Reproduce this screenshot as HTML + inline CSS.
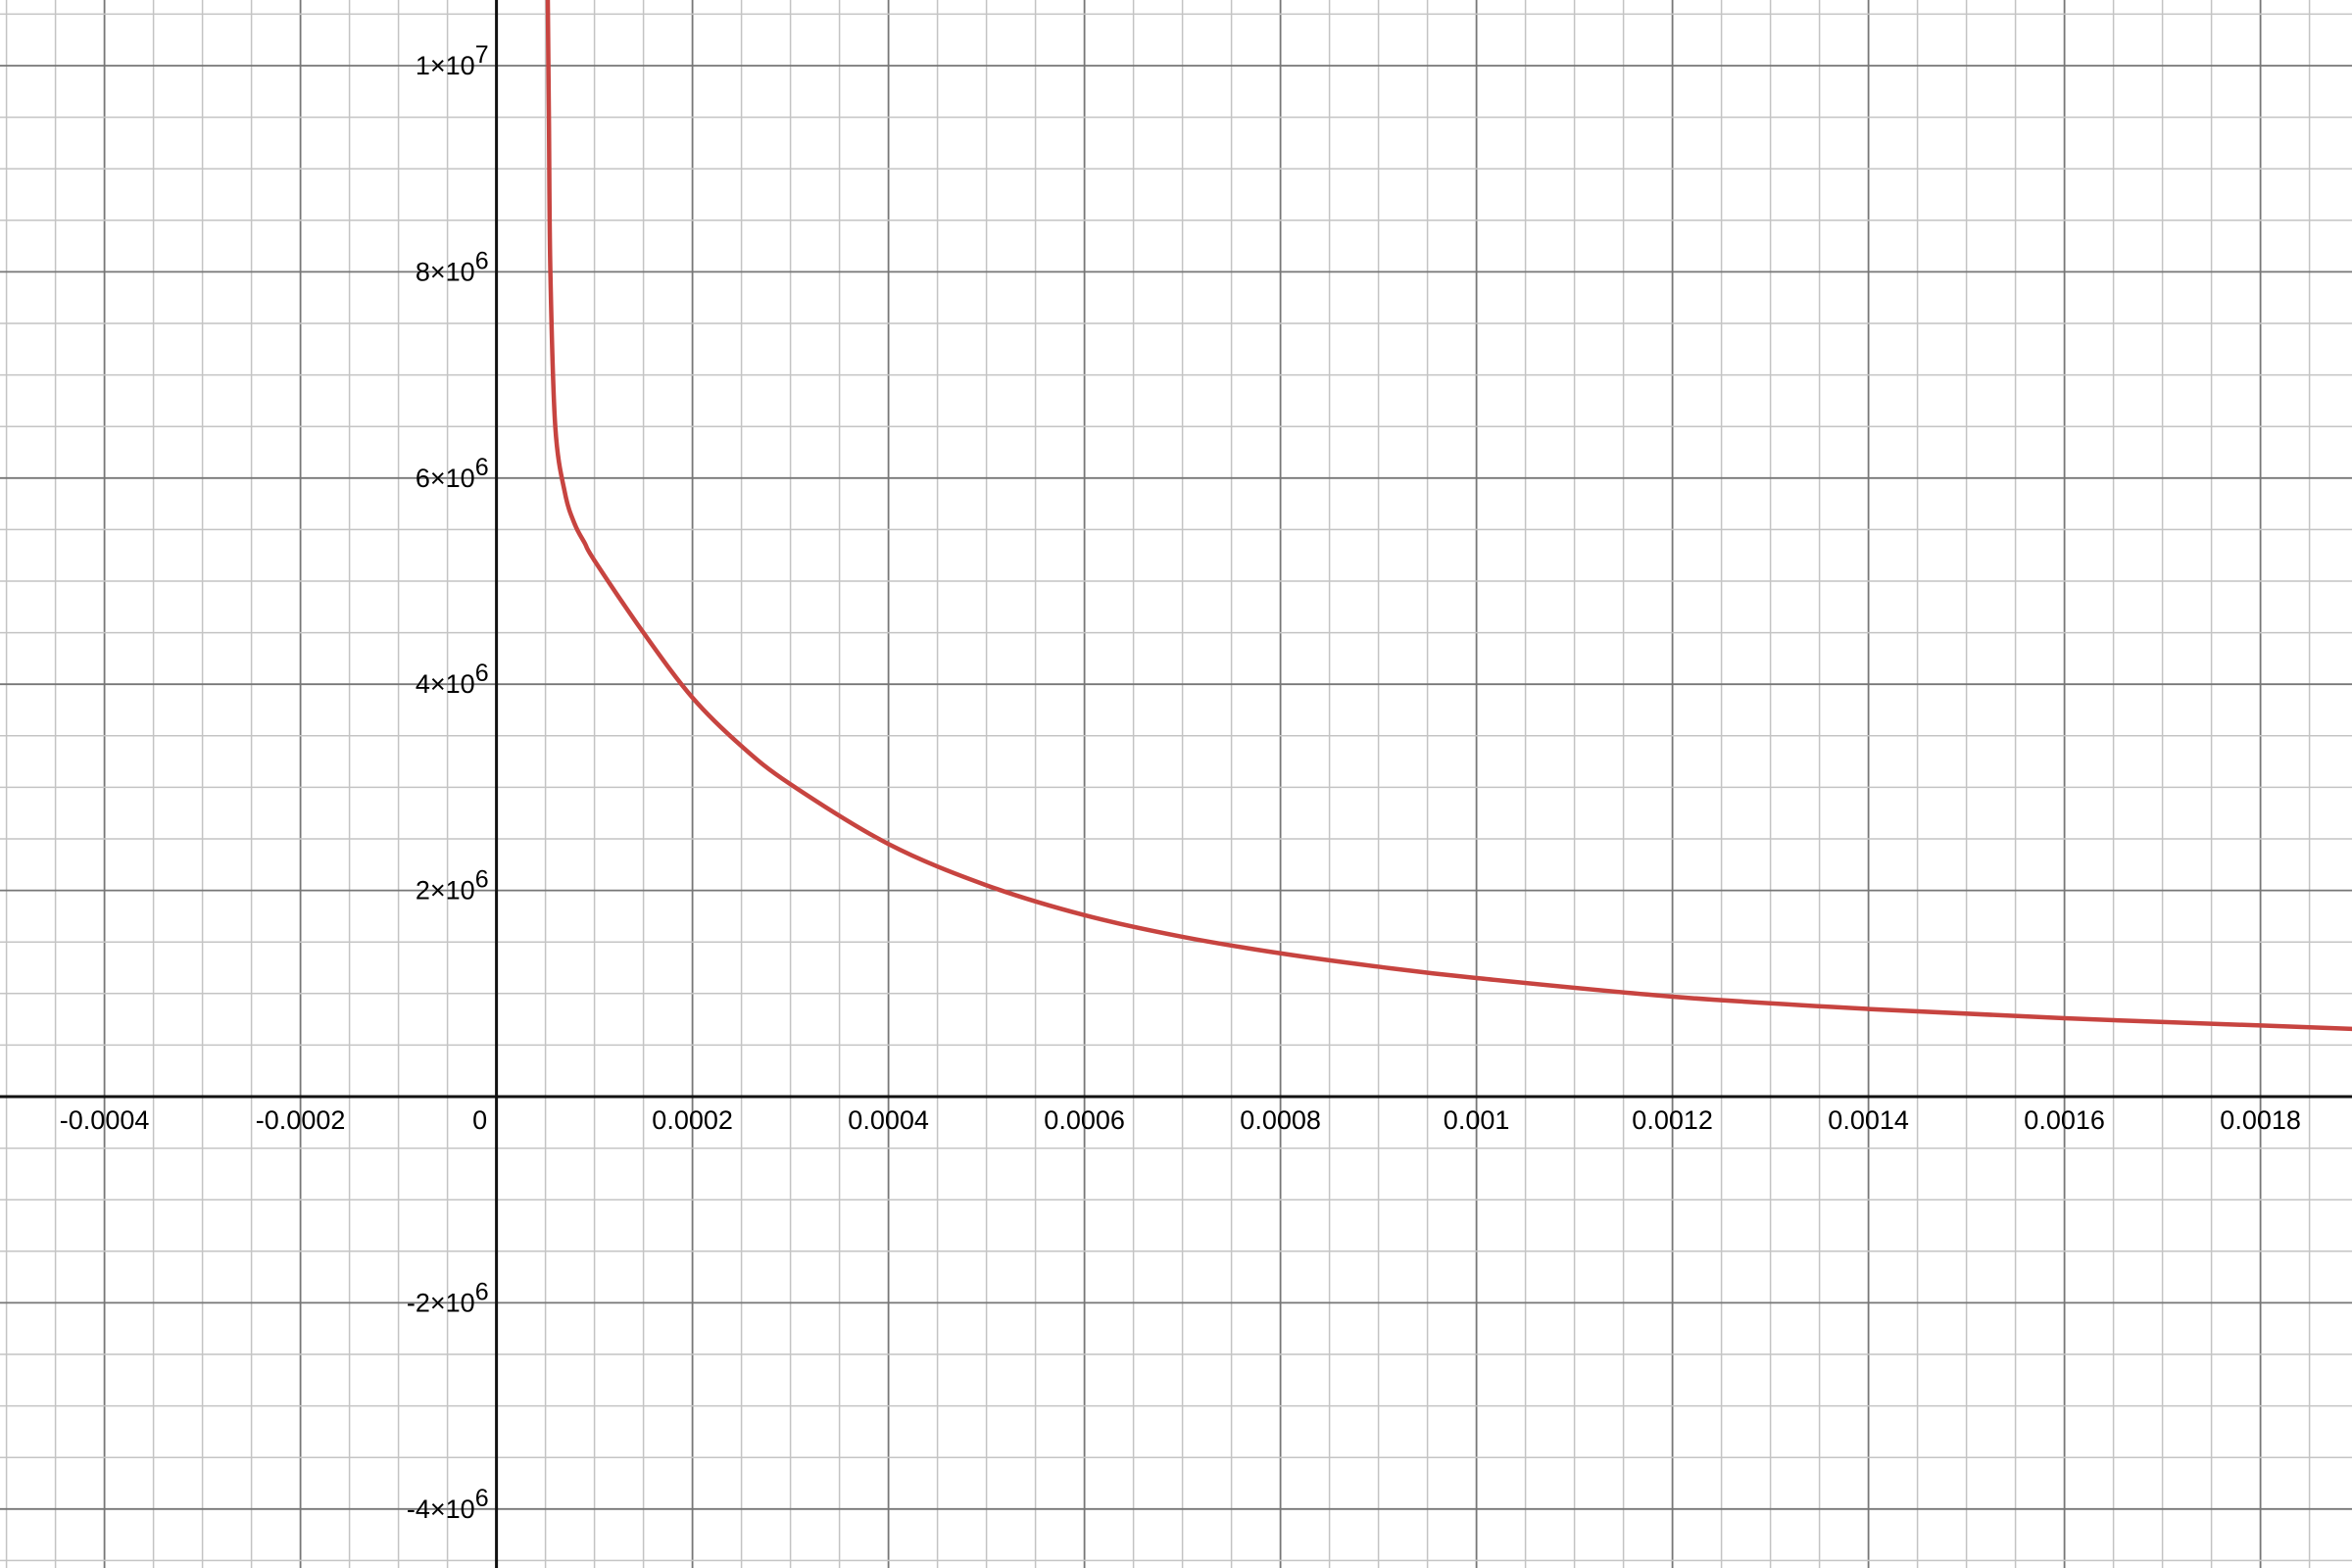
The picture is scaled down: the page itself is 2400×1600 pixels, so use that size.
<!DOCTYPE html>
<html><head><meta charset="utf-8"><style>
html,body{margin:0;padding:0;background:#fff}
svg{display:block}
text{font-family:"Liberation Sans",Arial,sans-serif;fill:#000}
</style></head><body>
<svg id="chart" width="2400" height="1600" viewBox="0 0 2400 1600" xmlns="http://www.w3.org/2000/svg">
<g id="grid"></g>
<g id="axes"></g>
<g id="labels"></g>
<path id="curve" fill="none" stroke="#c74440" stroke-width="4.5" stroke-linejoin="round" stroke-linecap="round"/>
</svg>
<script>
const xValues = [0.0000522,0.0000535,0.000055,0.00006,0.00007,0.00008,0.00009,0.0001,0.00015,0.0002,0.00025,0.0003,0.0004,0.0005,0.0006,0.0007,0.0008,0.0009,0.001,0.0012,0.0014,0.0016,0.0018,0.0019];
const yValues = [1.08e7,9.5e6,8.0e6,6.5e6,5.85e6,5.55e6,5.37e6,5.2e6,4.5e6,3.87e6,3.4e6,3.03e6,2.45e6,2.05e6,1.76e6,1.55e6,1.39e6,1.26e6,1.15e6,0.97e6,0.85e6,0.76e6,0.69e6,0.655e6];
const xTickValues = [-0.0004,-0.0002,0.0002,0.0004,0.0006,0.0008,0.001,0.0012,0.0014,0.0016,0.0018];
const xTickLabels = ["-0.0004","-0.0002","0.0002","0.0004","0.0006","0.0008","0.001","0.0012","0.0014","0.0016","0.0018"];
const yTickValues = [1e7,8e6,6e6,4e6,2e6,-2e6,-4e6];
const yTickMantissa = ["1","8","6","4","2","-2","-4"];
const yTickExp = ["7","6","6","6","6","6","6"];

const X0 = 506.6, PX_PER_X = 200/0.0002;
const Y0 = 1119, PX_PER_Y = 210.4/2e6;
const sx = v => X0 + v*PX_PER_X;
const sy = v => Y0 - v*PX_PER_Y;
const NS = "http://www.w3.org/2000/svg";
function mk(tag, attrs, parent){const e=document.createElementNS(NS,tag);for(const k in attrs)e.setAttribute(k,attrs[k]);parent.appendChild(e);return e;}

const grid = document.getElementById('grid');
for(let i=-11;i<=39;i++){
  const v=i*0.00005, px=sx(v);
  if(px<-2||px>2402) continue;
  const major = i%4===0;
  const l = mk('line',{x1:px,x2:px,y1:0,y2:1600,stroke:major?'#777':'#c4c4c4','stroke-width':major?1.8:1.5},grid);
  
  
}
for(let i=-10;i<=22;i++){
  const v=i*5e5, py=sy(v);
  if(py<-2||py>1602) continue;
  const major = i%4===0;
  const l = mk('line',{x1:0,x2:2400,y1:py,y2:py,stroke:major?'#777':'#c4c4c4','stroke-width':major?1.8:1.5},grid);
  
  
}
const axes = document.getElementById('axes');
const xa = mk('line',{x1:0,x2:2400,y1:Y0,y2:Y0,stroke:'#111','stroke-width':3},axes);


const ya = mk('line',{x1:X0,x2:X0,y1:0,y2:1600,stroke:'#111','stroke-width':3},axes);



const labels = document.getElementById('labels');
xTickValues.forEach((v,i)=>{
  const t = mk('text',{x:sx(v),y:Y0+33,'text-anchor':'middle','font-size':27},labels);
  t.textContent = xTickLabels[i];
  
  
});
const z = mk('text',{x:X0-17,y:Y0+33,'text-anchor':'middle','font-size':27},labels);
z.textContent='0';


yTickValues.forEach((v,i)=>{
  const t = mk('text',{x:X0-8,y:sy(v)+9,'text-anchor':'end','font-size':27},labels);
  const a = document.createElementNS(NS,'tspan'); a.textContent = yTickMantissa[i]+'×10'; t.appendChild(a);
  const b = document.createElementNS(NS,'tspan'); b.setAttribute('dy','-12'); b.setAttribute('font-size','25'); b.textContent = yTickExp[i]; t.appendChild(b);
  
  
});

const pts = xValues.map((x,i)=>[sx(x),sy(yValues[i])]);
let d = `M${pts[0][0]},${pts[0][1]-40} L${pts[0][0]},${pts[0][1]}`;
for(let i=0;i<pts.length-1;i++){
  const p0=pts[i-1]||pts[i], p1=pts[i], p2=pts[i+1], p3=pts[i+2]||p2;
  const c1=[p1[0]+(p2[0]-p0[0])/6, p1[1]+(p2[1]-p0[1])/6];
  const c2=[p2[0]-(p3[0]-p1[0])/6, p2[1]-(p3[1]-p1[1])/6];
  d+=` C${c1[0]},${c1[1]} ${c2[0]},${c2[1]} ${p2[0]},${p2[1]}`;
}
document.getElementById('curve').setAttribute('d',d);
</script>
</body></html>
